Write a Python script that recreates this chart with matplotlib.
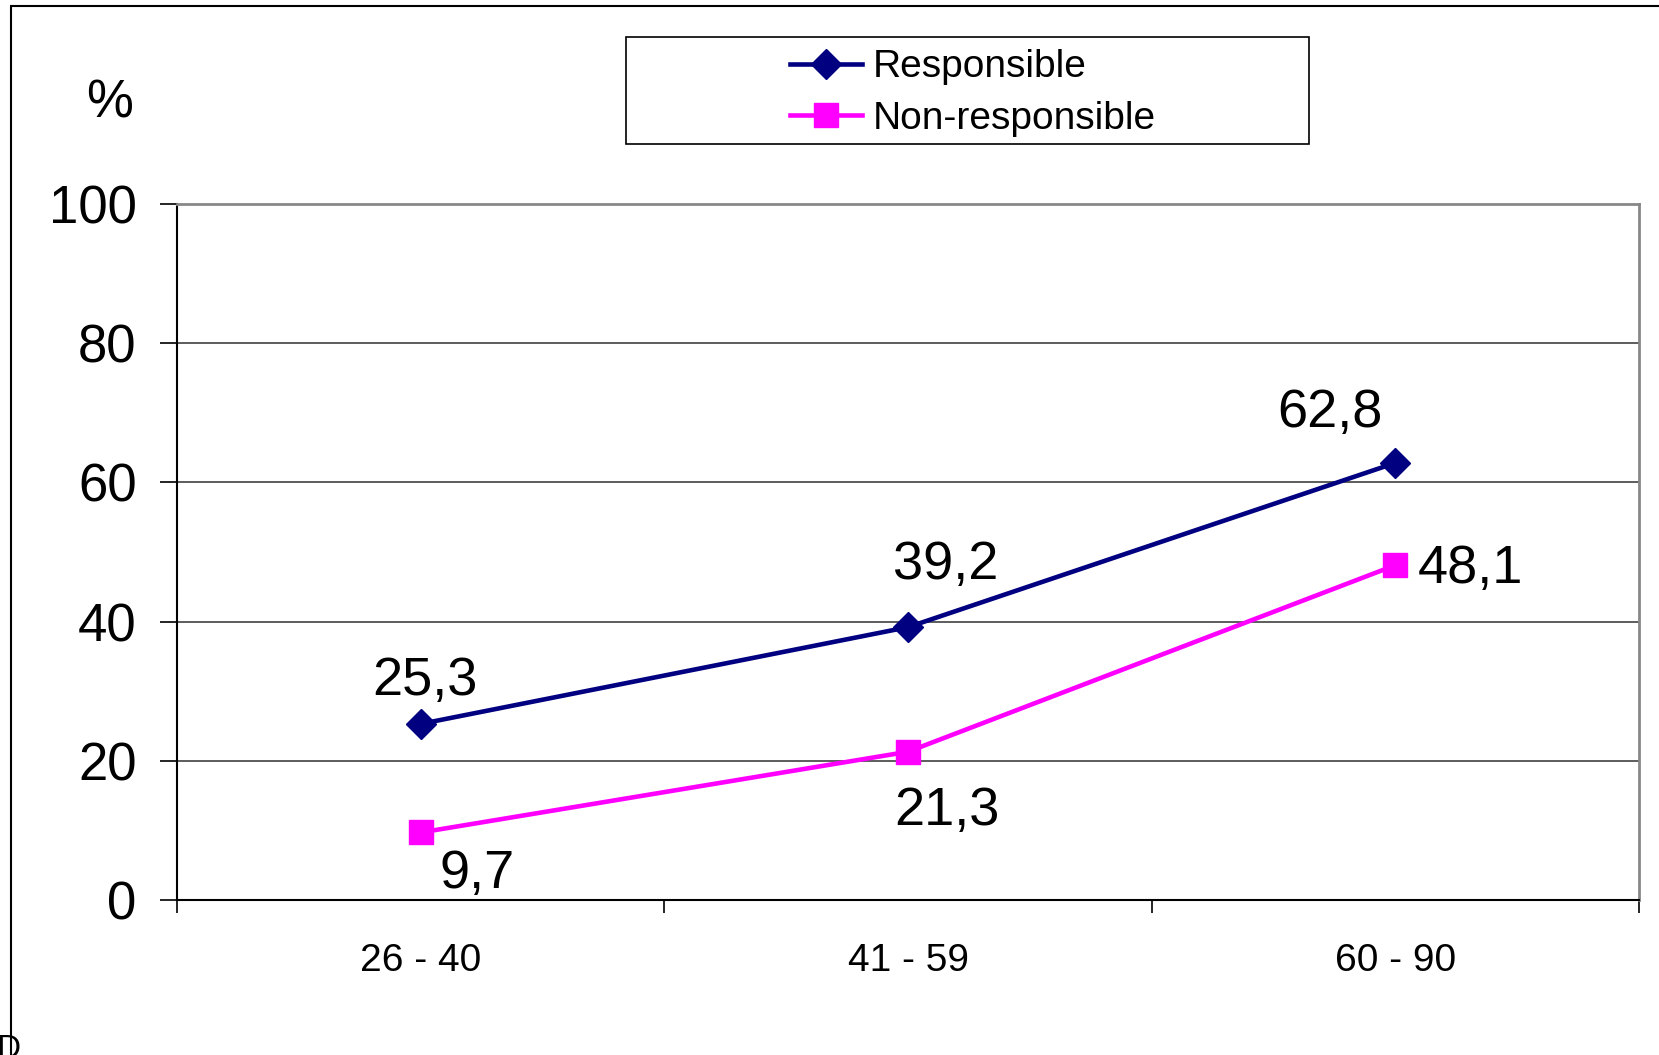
import matplotlib
matplotlib.use('Agg')
import matplotlib.pyplot as plt
from matplotlib.patches import Rectangle

plt.rcParams['font.family'] = ['Liberation Sans', 'DejaVu Sans']

age_groups = ['26 - 40', '41 - 59', '60 - 90']
responsible = [25.3, 39.2, 62.8]
non_responsible = [9.7, 21.3, 48.1]
y_ticks = [0, 20, 40, 60, 80, 100]

# label offsets in points (dx, dy) for each value
resp_offsets = [(3, 31), (27, 45), (-47, 36)]
nonresp_offsets = [(41, -30), (28, -43), (54, -3)]

W, H = 1659, 1055
fig = plt.figure(figsize=(W / 100, H / 100), dpi=100)
fig.patch.set_facecolor('white')

ax = fig.add_axes([177 / W, 1 - 900 / H, (1639 - 177) / W, (900 - 204) / H])

x = [i + 0.5 for i in range(len(age_groups))]

ax.plot(x, responsible, color='#000080', lw=3.3, marker='D', ms=15,
        mfc='#000080', mec='#000080', label='Responsible', zorder=3)
ax.plot(x, non_responsible, color='#FF00FF', lw=3.3, marker='s', ms=17,
        mfc='#FF00FF', mec='#FF00FF', label='Non-responsible', zorder=3)

def fmt(v):
    return ('%.1f' % v).replace('.', ',')

for xi, v, off in zip(x, responsible, resp_offsets):
    ax.annotate(fmt(v), (xi, v), xytext=off, textcoords='offset points',
                ha='center', va='center', fontsize=39)
for xi, v, off in zip(x, non_responsible, nonresp_offsets):
    ax.annotate(fmt(v), (xi, v), xytext=off, textcoords='offset points',
                ha='center', va='center', fontsize=39)

ax.set_xlim(0, len(age_groups))
ax.set_ylim(0, 100)
ax.set_yticks(y_ticks)
ax.set_yticklabels([str(t) for t in y_ticks], fontsize=38)
ax.tick_params(axis='y', direction='out', length=12, width=1.2, pad=17)

# category boundaries carry the ticks, labels sit between them
ax.set_xticks(range(len(age_groups) + 1))
ax.set_xticklabels([])
ax.set_xticks(x, minor=True)
ax.set_xticklabels(age_groups, minor=True, fontsize=28)
ax.tick_params(axis='x', which='major', direction='out', length=9, width=1.2)
ax.tick_params(axis='x', which='minor', length=0, pad=31)

ax.grid(axis='y', color='#303030', lw=1.1)
ax.set_axisbelow(True)
ax.spines['left'].set_color('black')
ax.spines['bottom'].set_color('black')
ax.spines['left'].set_linewidth(1.5)
ax.spines['bottom'].set_linewidth(1.5)
ax.spines['top'].set_color('#888888')
ax.spines['right'].set_color('#888888')
ax.spines['top'].set_linewidth(2)
ax.spines['right'].set_linewidth(2)

fig.text(110 / W, 1 - 104 / H, '%', fontsize=38, ha='center', va='center')

# legend box
fig.patches.append(Rectangle((626 / W, 1 - 144 / H), (1309 - 626) / W, (144 - 37) / H,
                             transform=fig.transFigure, fill=False,
                             edgecolor='black', lw=1.2))
fig.legend(loc='center', bbox_to_anchor=(973 / W, 1 - 93 / H), frameon=False,
           fontsize=28, handlelength=1.85, handletextpad=0.3, labelspacing=0.4,
           markerscale=1.0)

# outer chart frame
fig.patches.append(Rectangle((11 / W, -0.1), 1.2, 1 - 6 / H + 0.1,
                             transform=fig.transFigure, fill=False,
                             edgecolor='black', lw=1.5))
fig.text(-4 / W, 1 - 1050 / H, 'D', fontsize=24, ha='left', va='center')

fig.savefig('out.png', dpi=100, facecolor='white')
